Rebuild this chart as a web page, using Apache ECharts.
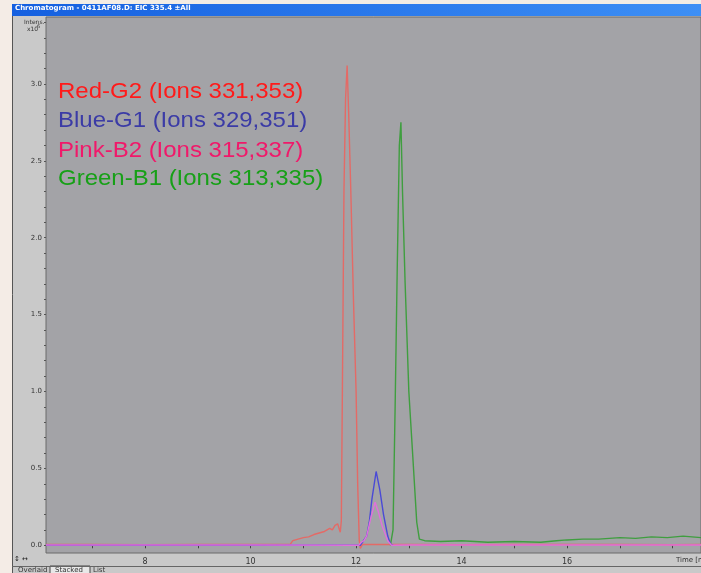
<!DOCTYPE html>
<html><head><meta charset="utf-8">
<script src="https://cdn.jsdelivr.net/npm/echarts@6/dist/echarts.min.js"></script>
<style>html,body{margin:0;padding:0;background:#f4ece6;}#c{width:701px;height:573px;}</style>
</head><body><div id="c"></div>
<script>
// ---- data (time in min, intensity x10^6) ----
const redTime = [6.12, 7.0, 8.0, 9.0, 10.0, 10.75, 10.8, 10.9, 11.0, 11.1, 11.2, 11.3, 11.4, 11.5, 11.55, 11.6, 11.65, 11.7, 11.72, 11.74, 11.77, 11.80, 11.83, 11.86, 11.90, 11.95, 12.00, 12.03, 12.06, 12.08, 12.12, 13.0, 14.0, 15.0, 16.0, 17.0, 18.0, 18.54];
const redVals = [0.005, 0.005, 0.004, 0.006, 0.005, 0.006, 0.03, 0.04, 0.05, 0.055, 0.07, 0.08, 0.09, 0.11, 0.10, 0.13, 0.14, 0.085, 0.16, 1.0, 2.3, 2.9, 3.12, 2.8, 2.3, 1.6, 1.0, 0.4, 0.03, -0.02, 0.005, 0.005, 0.004, 0.005, 0.005, 0.006, 0.004, 0.005];
const blueTime = [6.12, 8.0, 10.0, 12.08, 12.12, 12.2, 12.25, 12.3, 12.38, 12.45, 12.52, 12.6, 12.65, 12.7];
const blueVals = [0.0, 0.0, 0.0, 0.0, 0.02, 0.06, 0.15, 0.3, 0.48, 0.36, 0.2, 0.06, 0.01, 0.0];
const pinkTime = [6.12, 8.0, 10.0, 12.05, 12.1, 12.15, 12.2, 12.28, 12.36, 12.42, 12.5, 12.6, 12.67, 13.0, 15.0, 18.54];
const pinkVals = [0.002, 0.002, 0.002, 0.0, 0.02, 0.03, 0.06, 0.18, 0.28, 0.22, 0.12, 0.03, 0.0, 0.002, 0.002, 0.002];
const greenTime = [12.65, 12.70, 12.74, 12.78, 12.82, 12.85, 12.88, 12.93, 13.0, 13.08, 13.15, 13.2, 13.3, 13.6, 14.0, 14.5, 15.0, 15.5, 15.8, 16.0, 16.3, 16.6, 17.0, 17.3, 17.6, 17.9, 18.2, 18.54];
const greenVals = [0.0, 0.1, 0.9, 1.8, 2.6, 2.75, 2.3, 1.7, 1.0, 0.55, 0.15, 0.04, 0.03, 0.025, 0.03, 0.02, 0.025, 0.02, 0.03, 0.035, 0.04, 0.04, 0.05, 0.045, 0.055, 0.05, 0.06, 0.05];
const xLabelTicks = [8, 10, 12, 14, 16];
const xMinorTicks = [7, 8, 9, 10, 11, 12, 13, 14, 15, 16, 17, 18];
const yLabelTicks = [0, 0.5, 1.0, 1.5, 2.0, 2.5, 3.0];
const yMinorTicks = [0, 0.1, 0.2, 0.3, 0.4, 0.5, 0.6, 0.7, 0.8, 0.9, 1.0, 1.1, 1.2, 1.3, 1.4, 1.5, 1.6, 1.7, 1.8, 1.9, 2.0, 2.1, 2.2, 2.3, 2.4, 2.5, 2.6, 2.7, 2.8, 2.9, 3.0, 3.1, 3.2, 3.3, 3.4];
const seriesNames = ['Red-G2 (Ions 331,353)', 'Blue-G1 (Ions 329,351)', 'Pink-B2 (Ions 315,337)', 'Green-B1 (Ions 313,335)'];
const title = 'Chromatogram - 0411AF08.D: EIC 335.4 \u00b1All';

const zip = (a, b) => a.map((t, i) => [t, b[i]]);
const chart = echarts.init(document.getElementById('c'), null, {renderer: 'canvas'});
const lineS = (name, t, v, color) => ({name, type: 'line', data: zip(t, v), symbol: 'none', smooth: false,
  lineStyle: {color, width: 1.4}, itemStyle: {color}, z: 3, silent: true});
const labelColors = ['#ff1a1a', '#3b3ba6', '#f0196a', '#17a017'];
const labelTops = [81, 110, 140, 168];
const labelTexts = seriesNames.map((s, i) => ({type: 'text', z: 10, x: 58, y: labelTops[i], scaleX: 1.09,
  style: {text: s, fill: labelColors[i], font: '22px "Liberation Sans"'}}));
chart.setOption({
  animation: false,
  backgroundColor: '#f4ece6',
  grid: {left: 46, top: 17, right: 0, bottom: 20, show: true, backgroundColor: '#a3a3a7', borderColor: '#6a6a6a', borderWidth: 1},
  xAxis: [{
    type: 'value', min: 6.12, max: 18.54,
    axisLine: {show: false}, splitLine: {show: false},
    axisTick: {show: true, customValues: xMinorTicks, length: 3, lineStyle: {color: '#444'}},
    axisLabel: {customValues: xLabelTicks, color: '#333', fontSize: 8, fontFamily: 'DejaVu Sans', margin: 5}
  }],
  yAxis: [{
    type: 'value', min: -0.05, max: 3.435,
    axisLine: {show: false}, splitLine: {show: false},
    axisTick: {show: true, customValues: yMinorTicks, length: 2, lineStyle: {color: '#555'}},
    axisLabel: {customValues: yLabelTicks, formatter: v => v.toFixed(1), color: '#333', fontSize: 7, fontFamily: 'DejaVu Sans', margin: 4}
  }],
  series: [
    lineS(seriesNames[3], greenTime, greenVals, '#3f9e3f'),
    lineS(seriesNames[0], redTime, redVals, '#e46a66'),
    lineS(seriesNames[1], blueTime, blueVals, '#4a4ad6'),
    lineS(seriesNames[2], pinkTime, pinkVals, '#e070dc')
  ],
  graphic: [
    {type: 'rect', z: -10, shape: {x: 12, y: 0, width: 689, height: 573}, style: {fill: '#c9c9c9'}},
    {type: 'rect', z: -9, shape: {x: 12, y: 0, width: 689, height: 4}, style: {fill: '#f2ece4'}},
    {type: 'rect', z: -9, shape: {x: 12, y: 4, width: 689, height: 12},
      style: {fill: new echarts.graphic.LinearGradient(0, 0, 1, 0, [{offset: 0, color: '#1560e0'}, {offset: 1, color: '#3d8ff5'}])}},
    {type: 'text', z: 10, left: 15, top: 5, style: {text: title, fill: '#ffffff', font: 'bold 7px "DejaVu Sans"'}},
    {type: 'line', z: 10, shape: {x1: 12.5, y1: 16, x2: 12.5, y2: 573}, style: {stroke: '#555', lineWidth: 1}},
    {type: 'text', z: 10, left: 24, top: 19, style: {text: 'Intens.', fill: '#333', font: '6px "DejaVu Sans"'}},
    {type: 'text', z: 10, left: 27, top: 26, style: {text: 'x10', fill: '#333', font: '6px "DejaVu Sans"'}},
    {type: 'text', z: 10, left: 37, top: 24, style: {text: '6', fill: '#333', font: '5px "DejaVu Sans"'}},
    {type: 'text', z: 10, left: 676, top: 557, style: {text: 'Time [min]', fill: '#333', font: '7px "DejaVu Sans"'}},
    {type: 'text', z: 10, left: 14, top: 556, style: {text: '\u2195 \u2194', fill: '#222', font: '7px "DejaVu Sans"'}},
    {type: 'line', z: 10, shape: {x1: 12, y1: 566.5, x2: 701, y2: 566.5}, style: {stroke: '#666', lineWidth: 1}},
    {type: 'text', z: 10, left: 18, top: 567, style: {text: 'Overlaid', fill: '#333', font: '7px "DejaVu Sans"'}},
    {type: 'rect', z: 9, shape: {x: 50, y: 566, width: 40, height: 8}, style: {fill: '#e8e8e8', stroke: '#444', lineWidth: 1}},
    {type: 'text', z: 10, left: 55, top: 567, style: {text: 'Stacked', fill: '#333', font: '7px "DejaVu Sans"'}},
    {type: 'text', z: 10, left: 93, top: 567, style: {text: 'List', fill: '#333', font: '7px "DejaVu Sans"'}}
  ].concat(labelTexts)
});
</script></body></html>
